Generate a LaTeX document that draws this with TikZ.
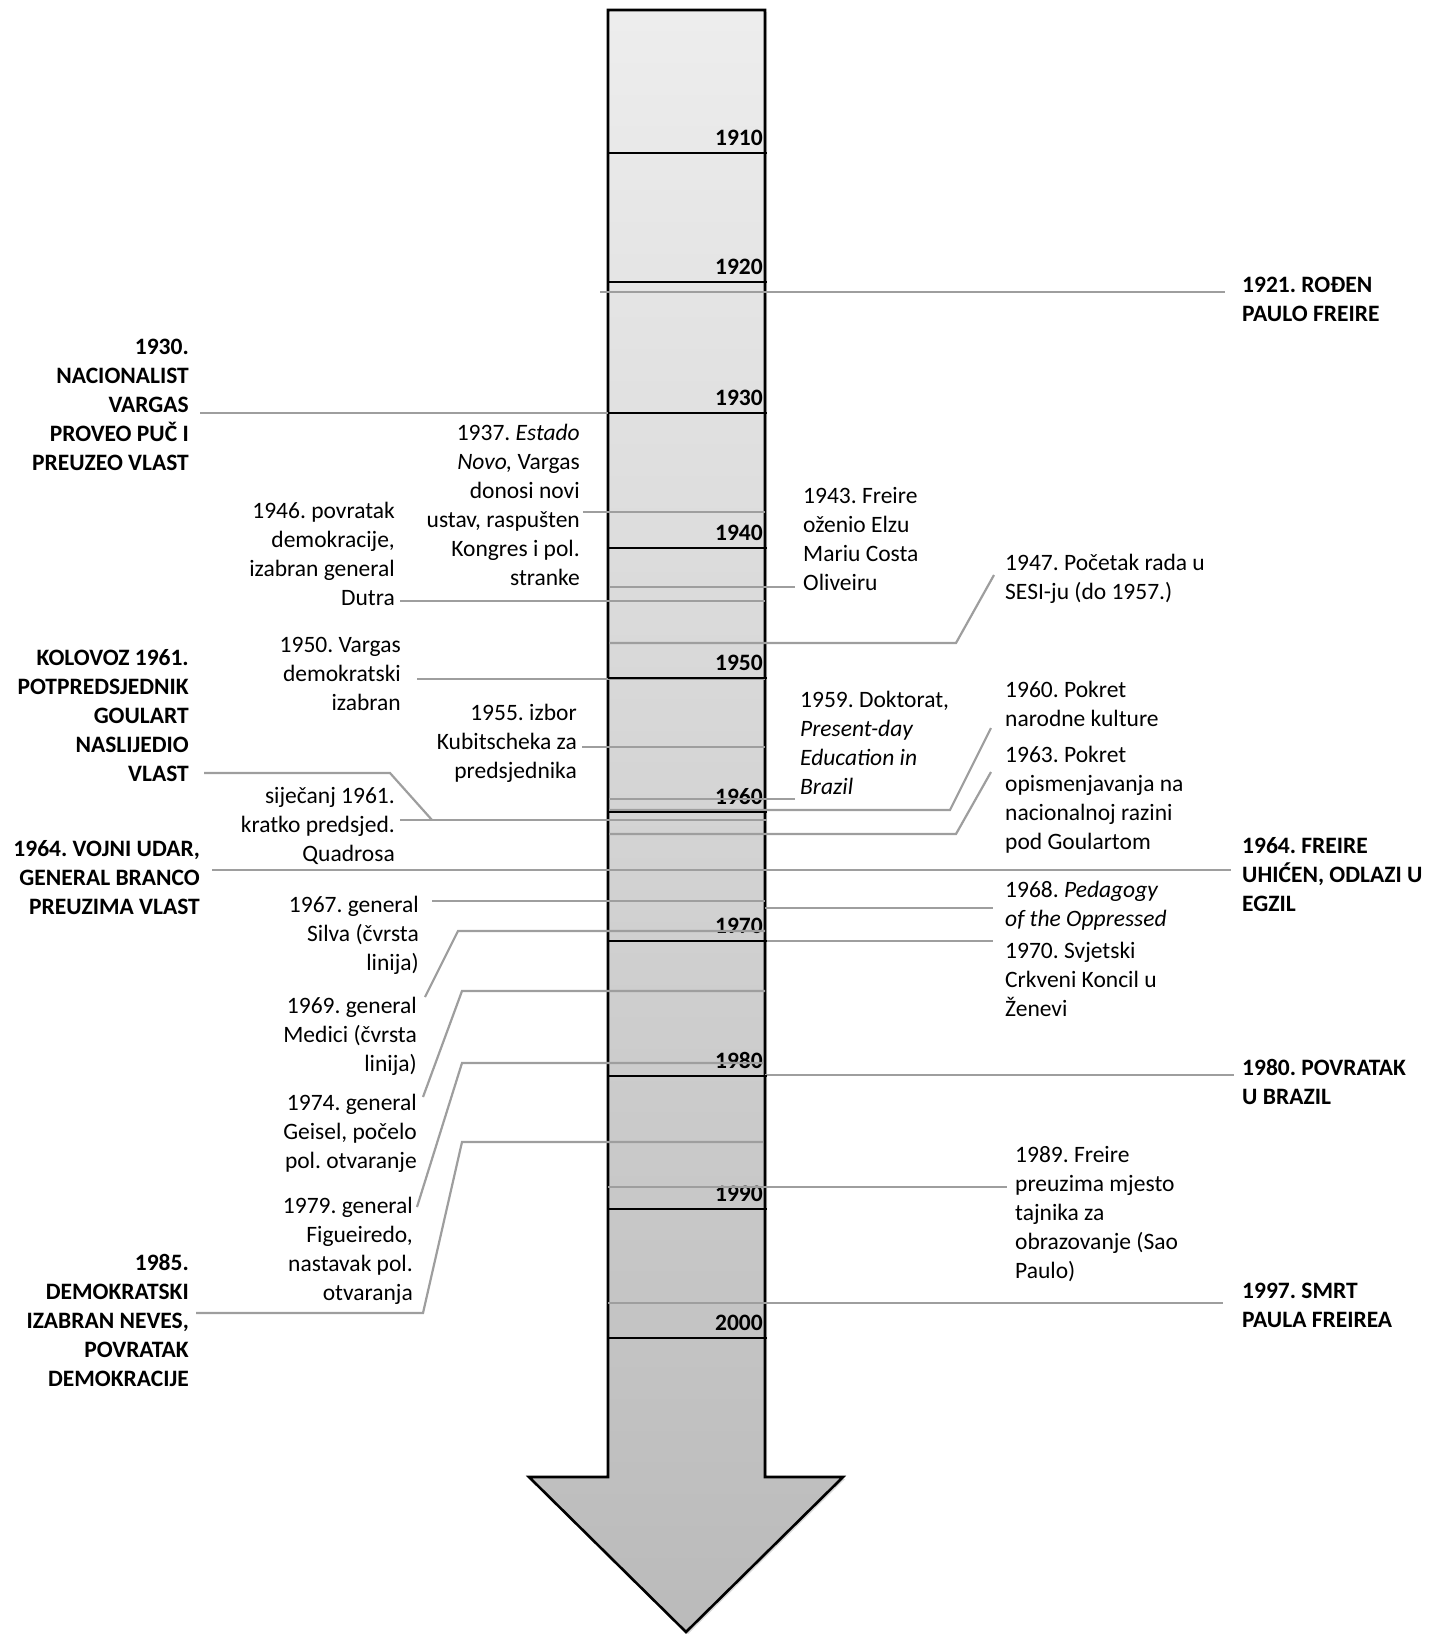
\documentclass[tikz,border=0pt]{standalone}
\usepackage{fontspec}
\setmainfont{Carlito}
\usetikzlibrary{shadows}
\frenchspacing

\newcommand{\evsize}{\fontsize{23.5}{29}\selectfont}

\tikzset{
  lft/.style={align=right, anchor=base east, inner ysep=0pt},
  rgt/.style={align=left, anchor=base west, inner ysep=0pt},
  caps/.style={font=\evsize\bfseries},
  conn/.style={draw=black!38, line width=2.2pt},
  tick/.style={draw=black, line width=2.6pt},
}

\begin{document}
\begin{tikzpicture}[x=1pt, y=-1pt, font=\evsize]
    \useasboundingbox (0,0) rectangle (1445,1634);

    % Draw the time arrow
    \draw[line width=2.6pt, top color=black!7, bottom color=black!27,
          drop shadow={opacity=0.3, shadow xshift=2pt, shadow yshift=-2pt}]
      (608,10) -- (765,10) -- (765,1477) -- (843,1477) -- (686,1632)
      -- (529,1477) -- (608,1477) -- cycle;

    % Year labels
    \foreach \yr/\ty in {1910/153, 1920/282, 1930/413, 1940/548, 1950/678,
                         1960/812, 1970/941, 1980/1076, 1990/1209, 2000/1338}
      \node[caps, anchor=base east, inner sep=0pt] (y\yr) at (763,\ty-8) {\yr};

    % Points on the arrow
    \coordinate (p1921) at (600,292);
    \coordinate (p1930) at (609,413);
    \coordinate (p1937) at (765,512);
    \coordinate (p1943) at (610,587);
    \coordinate (p1946) at (765,601);
    \coordinate (p1947) at (609,643);
    \coordinate (p1950) at (765,679);
    \coordinate (p1955) at (765,747);
    \coordinate (p1959) at (609,799);
    \coordinate (p1960) at (609,810);
    \coordinate (p1961) at (767,820);
    \coordinate (p1963) at (609,834);
    \coordinate (p1964) at (686,870);
    \coordinate (p1967) at (765,901);
    \coordinate (p1968) at (765,908);
    \coordinate (p1969) at (765,931);
    \coordinate (p1970) at (765,941);
    \coordinate (p1974) at (765,991);
    \coordinate (p1979) at (763,1063);
    \coordinate (p1980) at (765,1075);
    \coordinate (p1985) at (763,1142);
    \coordinate (p1989) at (608,1187);
    \coordinate (p1997) at (608,1303);

    % Events on the left (placed by the baseline of their last line)
    \node[lft, caps, inner xsep=11pt] (n1930) at (200,470) {1930.\\NACIONALIST\\VARGAS\\PROVEO PUČ I\\PREUZEO VLAST};
    \node[lft, inner xsep=3pt] (n1937) at (583,585) {1937. \textit{Estado}\\\textit{Novo,} Vargas\\donosi novi\\ustav, raspušten\\Kongres i pol.\\stranke};
    \node[lft, inner xsep=5pt] (n1946) at (400,605) {1946. povratak\\demokracije,\\izabran general\\Dutra};
    \node[lft, inner xsep=16pt] (n1950) at (417,710) {1950. Vargas\\demokratski\\izabran};
    \node[lft, caps, inner xsep=15pt] (n1961a) at (204,781) {KOLOVOZ 1961.\\POTPREDSJEDNIK\\GOULART\\NASLIJEDIO\\VLAST};
    \node[lft, inner xsep=5pt] (n1955) at (582,778) {1955. izbor\\Kubitscheka za\\predsjednika};
    \node[lft, inner xsep=5pt] (n1961b) at (400,861) {siječanj 1961.\\kratko predsjed.\\Quadrosa};
    \node[lft, caps, inner xsep=12pt] (n1964a) at (212,914) {1964. VOJNI UDAR,\\GENERAL BRANCO\\PREUZIMA VLAST};
    \node[lft, inner xsep=13pt] (n1967) at (432,970) {1967. general\\Silva (čvrsta\\linija)};
    \node[lft, inner xsep=0pt] (n1969) at (417,1071) {1969. general\\Medici (čvrsta\\linija)};
    \node[lft, inner xsep=0pt] (n1974) at (417,1168) {1974. general\\Geisel, počelo\\pol. otvaranje};
    \node[lft, inner xsep=0pt] (n1979) at (413,1300) {1979. general\\Figueiredo,\\nastavak pol.\\otvaranja};
    \node[lft, caps, inner xsep=7pt] (n1985) at (196,1386) {1985.\\DEMOKRATSKI\\IZABRAN NEVES,\\POVRATAK\\DEMOKRACIJE};

    % Events on the right
    \node[rgt, caps, inner xsep=17pt] (n1921) at (1225,321) {1921. ROĐEN\\PAULO FREIRE};
    \node[rgt, inner xsep=8pt] (n1943) at (795,590) {1943. Freire\\oženio Elzu\\Mariu Costa\\Oliveiru};
    \node[rgt, inner xsep=0pt] (n1947) at (1005,599) {1947. Početak rada u\\SESI-ju (do 1957.)};
    \node[rgt, inner xsep=0pt] (n1960) at (1005,726) {1960. Pokret\\narodne kulture};
    \node[rgt, inner xsep=5pt] (n1959) at (795,794) {1959. Doktorat,\\\textit{Present-day}\\\textit{Education in}\\\textit{Brazil}};
    \node[rgt, inner xsep=0pt] (n1963) at (1005,849) {1963. Pokret\\opismenjavanja na\\nacionalnoj razini\\pod Goulartom};
    \node[rgt, caps, inner xsep=11pt] (n1964b) at (1231,911) {1964. FREIRE\\UHIĆEN, ODLAZI U\\EGZIL};
    \node[rgt, inner xsep=12pt] (n1968) at (993,926) {1968. \textit{Pedagogy}\\\textit{of the Oppressed}};
    \node[rgt, inner xsep=12pt] (n1970) at (993,1016) {1970. Svjetski\\Crkveni Koncil u\\Ženevi};
    \node[rgt, caps, inner xsep=8pt] (n1980) at (1234,1104) {1980. POVRATAK\\U BRAZIL};
    \node[rgt, inner xsep=8pt] (n1989) at (1007,1278) {1989. Freire\\preuzima mjesto\\tajnika za\\obrazovanje (Sao\\Paulo)};
    \node[rgt, caps, inner xsep=19pt] (n1997) at (1223,1327) {1997. SMRT\\PAULA FREIREA};

    % Connectors
    \draw[conn] (p1921) -- (p1921 -| n1921.west);
    \draw[conn] (n1930.east |- p1930) -- (p1930);
    \draw[conn] (n1937.east |- p1937) -- (p1937);
    \draw[conn] (p1943) -- (p1943 -| n1943.west);
    \draw[conn] (n1946.east |- p1946) -- (p1946);
    \draw[conn] (p1947) -- (p1947 -| 956,0) -- ([xshift=-11pt,yshift=24pt]n1947.base west);
    \draw[conn] (n1950.east |- p1950) -- (p1950);
    \draw[conn] (n1955.east |- p1955) -- (p1955);
    \draw[conn] (p1959) -- (p1959 -| n1959.west);
    \draw[conn] (p1960) -- (p1960 -| 950,0) -- ([xshift=-14pt,yshift=-2pt]n1960.base west);
    \draw[conn] ([yshift=8pt]n1961a.base east) -- ++(186,0) -- (p1961 -| 432,0);
    \draw[conn] (n1961b.east |- p1961) -- (p1961);
    \draw[conn] (p1963) -- (p1963 -| 956,0) -- ([xshift=-14pt,yshift=77pt]n1963.base west);
    \draw[conn] (n1964a.east |- p1964) -- (n1964b.west |- p1964);
    \draw[conn] (n1967.east |- p1967) -- (p1967);
    \draw[conn] (p1968) -- (p1968 -| n1968.west);
    \draw[conn] ([xshift=8pt,yshift=74pt]n1969.base east) -- (p1969 -| 458,0) -- (p1969);
    \draw[conn] (p1970) -- (p1970 -| n1970.west);
    \draw[conn] ([xshift=6pt,yshift=71pt]n1974.base east) -- (p1974 -| 462,0) -- (p1974);
    \draw[conn] ([xshift=4pt,yshift=93pt]n1979.base east) -- (p1979 -| 462,0) -- (p1979);
    \draw[conn] (p1980) -- (p1980 -| n1980.west);
    \draw[conn] ([yshift=73pt]n1985.base east) -- ++(227,0) -- (p1985 -| 462,0) -- (p1985);
    \draw[conn] (p1989) -- (p1989 -| n1989.west);
    \draw[conn] (p1997) -- (p1997 -| n1997.west);

    % Decade ticks
    \foreach \ty in {153, 282, 413, 548, 678, 812, 941, 1076, 1209, 1338}
      \draw[tick] (608,\ty) -- (767,\ty);
\end{tikzpicture}
\end{document}
